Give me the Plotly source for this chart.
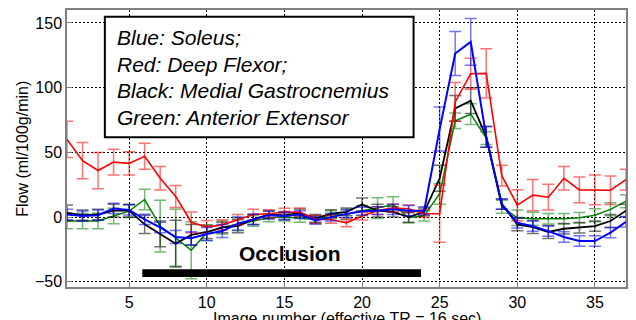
import plotly.graph_objects as go

image_number = list(range(1, 38))

blue = [2, 0.8, 1.5, 6.7, 5.6, -1.8, -8, -15.4, -16.4, -13,
        -10.8, -5, -1.8, 1.5, 0.8, 2, -2.6, 0, 2.5, 4.6,
        5, 6, 5, 5, 68, 126.4, 135.4, 62, 10, -4.4,
        -7, -10.8, -15.4, -18.5, -18.5, -12, -3.6]
blue_err = [4, 4, 4, 4, 4, 4, 4, 5, 5, 5,
            5, 5, 4, 3, 3, 3, 3, 3, 3, 3,
            3, 4, 4, 3, 17, 17, 18, 8, 4, 4,
            4, 4, 4, 4, 4, 4, 4]

red = [60, 43.6, 36, 42.5, 41.5, 47, 30, 16, -4, -7.7,
       -6, -2, 2, 2.6, 3.8, 4, -1.8, -1.8, -4.4, 0.8,
       5, 7, 6.4, 2.6, 2.6, 89, 110.8, 111, 32, 9.2,
       17, 15.4, 30, 21, 21, 20.8, 29]
red_err = [14, 14, 14, 10, 9, 10, 9, 8.5, 8, 5,
           4, 4, 4, 3, 3, 3, 3, 3, 3, 3,
           3, 3, 3, 3, 22, 15, 12, 19, 8, 12,
           12, 10, 9, 10, 11.5, 11, 8]

black = [3.3, 1.5, 2, 5, 5, -5.6, -13, -20.5, -13.8, -11.5,
         -8, -7, -1.8, 2, 1.3, 3.3, -1, 2.6, 4, 9.7,
         5, 4, 0, 4, 30, 84, 90, 62, 10, -5.6,
         -7.7, -11.5, -9, -8.2, -7, -3, 5]
black_err = [6, 4, 4, 5, 5, 7, 10, 18, 8, 5,
             4, 5, 4, 3, 3, 3, 3, 3, 3, 5,
             5, 4, 4, 3, 10, 10, 10, 8, 4, 5,
             5, 5, 4, 4, 4, 5, 5]

green = [-3, -3, -3, 0.8, 4.6, 13.6, -7, -16, -25.6, -12,
         -8, -5.6, -3, -0.5, 0, -1, -1.8, 2, 2, 5,
         7, 9.7, -0.5, 1, 18, 74.4, 79.5, 61, 8, -0.5,
         -1.3, -1.3, -1.3, -0.5, 1.5, 6, 12.3]
green_err = [6, 6, 6, 6, 5, 8, 20, 22, 22, 6,
             5, 5, 4, 3, 3, 3, 3, 3, 4, 4,
             8, 6, 4, 4, 8, 6, 8, 5, 5, 6,
             5, 4, 4, 4, 5, 5, 5]

x_ticks = [5, 10, 15, 20, 25, 30, 35]
y_ticks = [-50, 0, 50, 100, 150]

legend_lines = ["Blue: Soleus;", "Red: Deep Flexor;",
                "Black: Medial Gastrocnemius", "Green: Anterior Extensor"]
occlusion_start, occlusion_end = 5.85, 23.8
occlusion_label = "Occlusion"

series = [
    (green, green_err, "#008000", "rgba(0,128,0,0.55)", 1.5),
    (black, black_err, "#000000", "rgba(0,0,0,0.55)", 1.8),
    (red, red_err, "#ff0000", "rgba(255,0,0,0.55)", 1.6),
    (blue, blue_err, "#0000ff", "rgba(0,0,255,0.55)", 2.0),
]

fig = go.Figure()
for vals, errs, col, ecol, lw in series:
    fig.add_trace(go.Scatter(
        x=image_number, y=vals, mode="lines",
        line=dict(color=col, width=lw),
        error_y=dict(type="data", array=errs, visible=True,
                     color=ecol, thickness=1.5, width=6),
        showlegend=False,
    ))

font = "Liberation Sans, Arial, sans-serif"

fig.update_layout(
    width=636, height=320,
    margin=dict(l=67, r=8, t=9, b=33),
    paper_bgcolor="white", plot_bgcolor="white",
    font=dict(family=font, size=16, color="black"),
    showlegend=False,
)
fig.update_xaxes(
    range=[1, 37], tickvals=x_ticks, showgrid=True,
    gridcolor="black", gridwidth=1, griddash="2px,2px",
    showline=True, linecolor="#808080", linewidth=1.5, mirror=True,
    ticks="inside", ticklen=5, tickcolor="#808080", zeroline=False,
    tickfont=dict(size=16),
)
fig.update_yaxes(
    range=[-54, 160], tickvals=y_ticks, showgrid=True,
    gridcolor="black", gridwidth=1, griddash="2px,2px",
    showline=True, linecolor="#808080", linewidth=1.5, mirror=True,
    ticks="inside", ticklen=5, tickcolor="#808080", zeroline=False,
    tickfont=dict(size=16),
)

# legend-style text box
fig.add_shape(type="rect", xref="paper", yref="paper",
              x0=0.0677, x1=0.620, y0=0.5406, y1=0.976,
              line=dict(color="black", width=2), fillcolor="white", layer="above")
line_ys = [0.9004, 0.8047, 0.7086, 0.6126]
for txt, yy in zip(legend_lines, line_ys):
    fig.add_annotation(xref="paper", yref="paper", x=0.0856, y=yy,
                       text="<i>" + txt + "</i>", showarrow=False,
                       xanchor="left", yanchor="middle",
                       font=dict(size=21, family=font, color="black"))

# occlusion bar and label
fig.add_shape(type="rect", xref="x", yref="y",
              x0=occlusion_start, x1=occlusion_end, y0=-46.2, y1=-40.2,
              line=dict(width=0), fillcolor="black", layer="above")
fig.add_annotation(xref="x", yref="y", x=15.36, y=-28.5,
                   text="<b>" + occlusion_label + "</b>", showarrow=False,
                   xanchor="center", yanchor="middle",
                   font=dict(size=21, family=font, color="black"))

# axis titles
fig.add_annotation(xref="paper", yref="paper", x=-0.080, y=0.5,
                   text="Flow (ml/100g/min)", showarrow=False, textangle=-90,
                   xanchor="center", yanchor="middle",
                   font=dict(size=16, family=font, color="black"))
fig.add_annotation(xref="paper", yref="paper", x=0.5, y=-0.115,
                   text="Image number (effective TR = 16 sec)", showarrow=False,
                   xanchor="center", yanchor="middle",
                   font=dict(size=16, family=font, color="black"))

fig.write_html("out.html",
               config={"displayModeBar": False},
               post_script="document.body.style.margin='0';document.body.style.overflow='hidden';")
